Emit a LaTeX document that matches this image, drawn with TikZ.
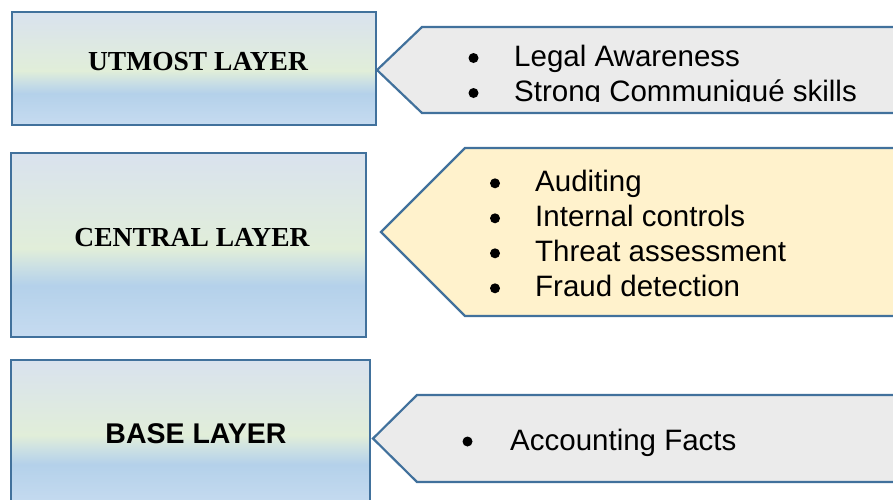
\documentclass[tikz,border=0pt]{standalone}
\usepackage{fontspec}
\setmainfont{Liberation Sans}
\newfontfamily\timesfont{Liberation Serif}
\definecolor{bordc}{RGB}{65,113,156}
\definecolor{gtop}{HTML}{D9E2EE}
\definecolor{gmidA}{HTML}{DDE8E4}
\definecolor{ggreen}{HTML}{E1EED9}
\definecolor{gmidB}{HTML}{CADFE4}
\definecolor{gblue}{HTML}{B4D1EA}
\definecolor{gbot}{HTML}{C6DBF0}
\definecolor{pgray}{HTML}{EBEBEB}
\definecolor{pyel}{HTML}{FFF2CC}
\pgfdeclareverticalshading{layergrad}{100bp}{color(0bp)=(gbot); color(25bp)=(gbot); color(39bp)=(gblue); color(44bp)=(gmidB); color(49bp)=(ggreen); color(62bp)=(gmidA); color(75bp)=(gtop); color(100bp)=(gtop)}
\tikzset{
  layerbox/.style={draw=bordc, line width=2.2pt, shading=layergrad, rectangle, inner sep=0pt, outer sep=0pt},
  pent/.style={draw=bordc, line width=2.2pt, line join=miter},
  serifhead/.style={font=\timesfont\bfseries\fontsize{27.5}{30}\selectfont, anchor=base, inner sep=0pt},
  sanshead/.style={font=\bfseries\fontsize{28.5}{30}\selectfont, anchor=base, inner sep=0pt},
  item/.style={font=\fontsize{29.5}{35}\selectfont, anchor=base west, inner sep=0pt},
  dot/.style={fill=black}
}
\begin{document}
\begin{tikzpicture}[x=1pt,y=-1pt]
\useasboundingbox (0,0) rectangle (893,499);
\clip (0,0) rectangle (893,499);
% layer boxes
\node[layerbox, minimum width=364pt, minimum height=113pt] (b1) at (194,68.5) {};
\node[layerbox, minimum width=355pt, minimum height=184pt] (b2) at (188.5,245) {};
\node[layerbox, minimum width=359pt, minimum height=145pt] (b3) at (190.5,432.5) {};
\node[serifhead] (t1) at (198,70) {UTMOST LAYER};
\node[serifhead] (t2) at (192,246.5) {CENTRAL LAYER};
\node[sanshead] (t3) at (196,443.5) {BASE LAYER};
% pentagons
\draw[pent, fill=pgray] (377,70) -- (422,27) -- (905,27) -- (905,113) -- (422,113) -- cycle;
\draw[pent, fill=pyel] (381,232) -- (465,148) -- (905,148) -- (905,316) -- (465,316) -- cycle;
\draw[pent, fill=pgray] (373,438.5) -- (417,395) -- (905,395) -- (905,482) -- (417,482) -- cycle;
% top list (clipped at bottom)
\begin{scope}
\clip (420,28) rectangle (893,101.5);
\fill[dot] (473.5,58) circle (5pt);
\fill[dot] (473.5,93) circle (5pt);
\node[item] (a1) at (514,66.3) {Legal Awareness};
\node[item] (a2) at (514,101.3) {Strong Communiqué skills};
\end{scope}
% central list
\fill[dot] (495,183.3) circle (5pt);
\fill[dot] (495,218.3) circle (5pt);
\fill[dot] (495,253.3) circle (5pt);
\fill[dot] (495,288.3) circle (5pt);
\node[item] (c1) at (535,191.5) {Auditing};
\node[item] (c2) at (535,226.5) {Internal controls};
\node[item] (c3) at (535,261.5) {Threat assessment};
\node[item] (c4) at (535,296.5) {Fraud detection};
% base list
\fill[dot] (467.5,441.5) circle (5pt);
\node[item] (d1) at (510,450) {Accounting Facts};
\end{tikzpicture}
\end{document}
